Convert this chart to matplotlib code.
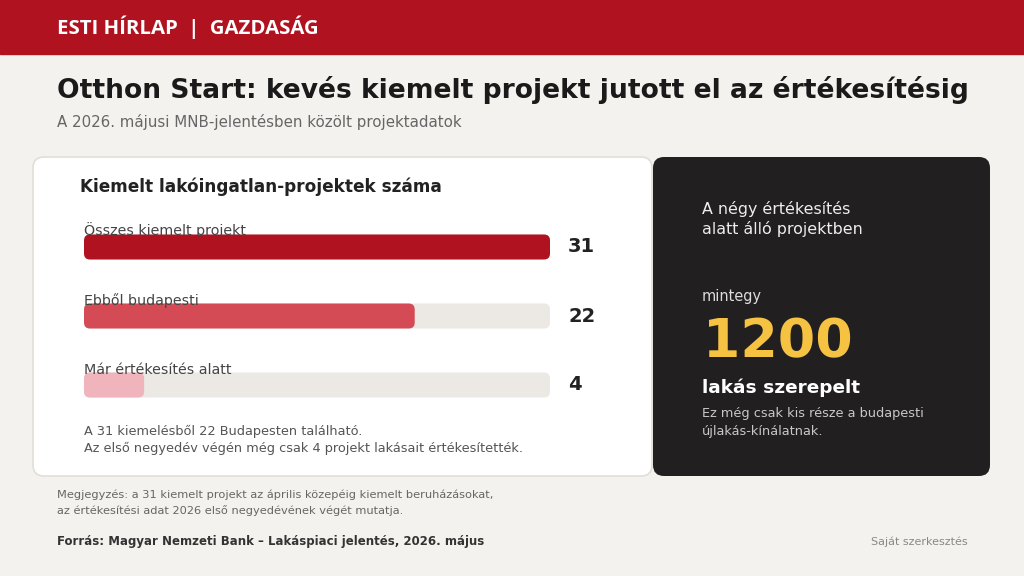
import matplotlib
matplotlib.use("Agg")
import matplotlib.pyplot as plt
from matplotlib.patches import FancyBboxPatch, Rectangle

FONT = "DejaVu Sans"

# ── data ────────────────────────────────────────────────────────────────────
categories = ["Összes kiemelt projekt", "Ebből budapesti", "Már értékesítés alatt"]
values = [31, 22, 4]
bar_colors = ["#B0121F", "#D44B55", "#F0B4BC"]
total = 31
apartments = 1200

BG = "#F4F2EE"
RED = "#B0121F"
DARK = "#211F20"
TRACK = "#ECE8E3"

fig = plt.figure(figsize=(10.24, 5.76), dpi=100, facecolor=BG)
ax = fig.add_axes([0, 0, 1, 1])
ax.set_xlim(0, 1024)
ax.set_ylim(576, 0)
ax.axis("off")
renderer = fig.canvas.get_renderer()


def put(x, y, s, width, family=FONT, **kw):
    """Place a text and scale its font so it spans `width` pixels."""
    kw.setdefault("va", "center")
    t = ax.text(x, y, s, family=family, fontsize=10, **kw)
    w = t.get_window_extent(renderer).width
    t.set_fontsize(10 * width / w)
    return t


# ── header band ─────────────────────────────────────────────────────────────
ax.add_patch(Rectangle((0, 0), 1024, 54, color=RED, zorder=1))
put(57, 27, "ESTI HÍRLAP  |  GAZDASÁG", 263, family="Open Sans",
    color="white", fontweight="bold", zorder=2)

put(57, 90, "Otthon Start: kevés kiemelt projekt jutott el az értékesítésig", 911,
    fontweight="bold", color="#1A1A1A")
put(57, 122, "A 2026. májusi MNB-jelentésben közölt projektadatok", 405,
    color="#666666")

# ── cards ───────────────────────────────────────────────────────────────────
ax.add_patch(FancyBboxPatch((33, 157), 619, 319,
                            boxstyle="round,pad=0,rounding_size=11",
                            facecolor="white", edgecolor="#E2DED8", lw=1.2, zorder=1))
ax.add_patch(FancyBboxPatch((653, 157), 337, 319,
                            boxstyle="round,pad=0,rounding_size=11",
                            facecolor=DARK, edgecolor="none", zorder=1))

put(80, 187, "Kiemelt lakóingatlan-projektek száma", 361,
    fontweight="bold", color="#222222")

# ── bar chart ───────────────────────────────────────────────────────────────
bx0, bx1 = 84, 550
by0, by1 = 220, 405
bax = fig.add_axes([bx0 / 1024, 1 - by1 / 576, (bx1 - bx0) / 1024, (by1 - by0) / 576])
bax.set_xlim(0, total)
bax.set_ylim(by1, by0)
bax.axis("off")
bax.patch.set_alpha(0)

row_y = [247, 316, 385]
bar_h = 25
xu = total / (bx1 - bx0)      # x data units per pixel
r_px = 6
label_fs = None
for cat, val, col, yc in zip(categories, values, bar_colors, row_y):
    top = yc - bar_h / 2
    bax.add_patch(FancyBboxPatch((0, top), total, bar_h,
                                 boxstyle=f"round,pad=0,rounding_size={r_px * xu}",
                                 mutation_aspect=1 / xu,
                                 facecolor=TRACK, edgecolor="none", zorder=1))
    bax.add_patch(FancyBboxPatch((0, top), val, bar_h,
                                 boxstyle=f"round,pad=0,rounding_size={r_px * xu}",
                                 mutation_aspect=1 / xu,
                                 facecolor=col, edgecolor="none", zorder=2))
    t = bax.text(0, top + 1, cat, family=FONT, fontsize=10, color="#444444",
                 va="baseline", ha="left", zorder=3, clip_on=False)
    if label_fs is None:
        label_fs = 10 * 162 / t.get_window_extent(renderer).width
    t.set_fontsize(label_fs)
    ax.text(568, yc, f"{val}", family=FONT, fontsize=14, fontweight="bold",
            color="#222222", va="center", ha="left")

note_fs = put(84, 431, f"A {values[0]} kiemelésből {values[1]} Budapesten található.", 277,
              color="#555555").get_fontsize()
ax.text(84, 448, f"Az első negyedév végén még csak {values[2]} projekt lakásait értékesítették.",
        family=FONT, fontsize=note_fs, color="#555555", va="center")

# ── dark card ───────────────────────────────────────────────────────────────
fs = put(702, 209, "A négy értékesítés", 148, color="#EEEEEE").get_fontsize()
ax.text(702, 229, "alatt álló projektben", family=FONT, fontsize=fs, color="#EEEEEE",
        va="center")
put(702, 297, "mintegy", 60, color="#DDDDDD")
put(703, 342, f"{apartments}", 150, fontweight="bold", color="#F5C242")
put(702, 388, "lakás szerepelt", 158, fontweight="bold", color="white")
fs = put(702, 413, "Ez még csak kis része a budapesti", 221, color="#C8C8C8").get_fontsize()
ax.text(702, 431, "újlakás-kínálatnak.", family=FONT, fontsize=fs, color="#C8C8C8",
        va="center")

# ── footer ──────────────────────────────────────────────────────────────────
fs = put(57, 495, "Megjegyzés: a 31 kiemelt projekt az április közepéig kiemelt beruházásokat,",
         435, color="#666666").get_fontsize()
ax.text(57, 511, "az értékesítési adat 2026 első negyedévének végét mutatja.",
        family=FONT, fontsize=fs, color="#666666", va="center")
put(57, 542, "Forrás: Magyar Nemzeti Bank – Lakáspiaci jelentés, 2026. május", 425,
    fontweight="bold", color="#333333")
put(968, 542, "Saját szerkesztés", 97, color="#888888", ha="right")

fig.savefig("out.png", dpi=100, facecolor=BG)
